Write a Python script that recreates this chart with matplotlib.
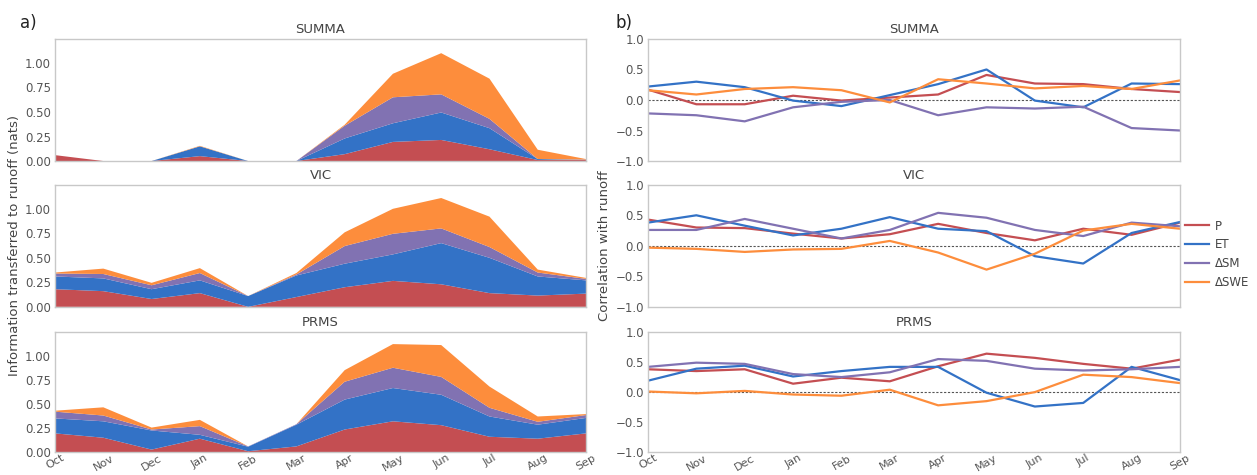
import numpy as np
import matplotlib.pyplot as plt

# --------------------------------
# data
months = ['Oct', 'Nov', 'Dec', 'Jan', 'Feb', 'Mar', 'Apr', 'May', 'Jun', 'Jul', 'Aug', 'Sep']
models = ['SUMMA', 'VIC', 'PRMS']
var_names = ['P', 'ET', '\u0394SM', '\u0394SWE']
colors = ['#c44e52', '#3372c6', '#8172b2', '#fd8d3c']

# a) information transferred (cumulative tops of stacked layers P, P+ET, P+ET+SM, total)
summa_cum = [
    [0.06, 0.0, 0.0, 0.05, 0.0, 0.0, 0.07, 0.195, 0.215, 0.12, 0.01, 0.01],
    [0.06, 0.0, 0.0, 0.15, 0.0, 0.0, 0.23, 0.385, 0.495, 0.335, 0.02, 0.01],
    [0.06, 0.0, 0.0, 0.15, 0.0, 0.0, 0.36, 0.65, 0.68, 0.43, 0.02, 0.015],
    [0.06, 0.0, 0.0, 0.155, 0.0, 0.0, 0.37, 0.89, 1.10, 0.84, 0.115, 0.02],
]
vic_cum = [
    [0.18, 0.16, 0.08, 0.14, 0.0, 0.10, 0.20, 0.265, 0.23, 0.14, 0.115, 0.135],
    [0.31, 0.29, 0.18, 0.27, 0.11, 0.32, 0.44, 0.535, 0.65, 0.50, 0.31, 0.27],
    [0.34, 0.335, 0.22, 0.345, 0.11, 0.33, 0.62, 0.745, 0.80, 0.61, 0.35, 0.285],
    [0.35, 0.39, 0.245, 0.395, 0.11, 0.345, 0.76, 1.00, 1.11, 0.92, 0.38, 0.295],
]
prms_cum = [
    [0.195, 0.15, 0.027, 0.14, 0.01, 0.06, 0.235, 0.32, 0.28, 0.16, 0.14, 0.195],
    [0.35, 0.32, 0.225, 0.18, 0.057, 0.285, 0.545, 0.665, 0.595, 0.37, 0.285, 0.355],
    [0.42, 0.38, 0.235, 0.27, 0.06, 0.29, 0.73, 0.875, 0.78, 0.46, 0.315, 0.385],
    [0.43, 0.465, 0.255, 0.335, 0.06, 0.29, 0.85, 1.12, 1.11, 0.68, 0.37, 0.395],
]

# b) correlation with runoff
summa_P = [0.17, -0.07, -0.07, 0.07, -0.01, 0.04, 0.09, 0.41, 0.27, 0.26, 0.18, 0.13]
summa_ET = [0.22, 0.30, 0.21, -0.01, -0.10, 0.08, 0.26, 0.50, -0.01, -0.12, 0.27, 0.26]
summa_SM = [-0.22, -0.25, -0.35, -0.12, -0.03, 0.0, -0.25, -0.12, -0.14, -0.11, -0.46, -0.50]
summa_SWE = [0.16, 0.09, 0.18, 0.21, 0.16, -0.04, 0.34, 0.27, 0.19, 0.23, 0.18, 0.32]

vic_P = [0.43, 0.30, 0.29, 0.20, 0.12, 0.19, 0.36, 0.21, 0.09, 0.28, 0.18, 0.38]
vic_ET = [0.38, 0.50, 0.33, 0.17, 0.28, 0.47, 0.28, 0.24, -0.17, -0.29, 0.21, 0.39]
vic_SM = [0.26, 0.26, 0.44, 0.28, 0.12, 0.26, 0.54, 0.46, 0.26, 0.16, 0.38, 0.32]
vic_SWE = [-0.03, -0.05, -0.10, -0.06, -0.05, 0.08, -0.11, -0.39, -0.13, 0.25, 0.36, 0.28]

prms_P = [0.38, 0.35, 0.38, 0.14, 0.24, 0.18, 0.43, 0.64, 0.57, 0.47, 0.39, 0.54]
prms_ET = [0.19, 0.39, 0.44, 0.26, 0.35, 0.42, 0.42, -0.01, -0.24, -0.18, 0.42, 0.20]
prms_SM = [0.42, 0.49, 0.47, 0.30, 0.25, 0.33, 0.55, 0.52, 0.39, 0.36, 0.38, 0.42]
prms_SWE = [0.01, -0.02, 0.02, -0.04, -0.06, 0.04, -0.22, -0.15, 0.0, 0.29, 0.25, 0.15]
# --------------------------------

info_cum = [summa_cum, vic_cum, prms_cum]
corr = [[summa_P, summa_ET, summa_SM, summa_SWE],
        [vic_P, vic_ET, vic_SM, vic_SWE],
        [prms_P, prms_ET, prms_SM, prms_SWE]]

plt.rcParams['font.family'] = 'DejaVu Sans'
fig = plt.figure(figsize=(12.57, 4.75), dpi=100)

x = np.arange(len(months))
bottoms = [0.661, 0.354, 0.048]
heights = [0.257, 0.257, 0.253]
tick_col = '#555555'
spine_col = '#c8c8c8'


def style(ax):
    for s in ax.spines.values():
        s.set_color(spine_col)
        s.set_linewidth(1.0)
    ax.tick_params(length=0, colors=tick_col, labelsize=8.5, pad=3)
    ax.tick_params(axis='x', pad=0.5)
    ax.set_xlim(0, len(months) - 1)
    ax.set_xticks(x)


for i, m in enumerate(models):
    # left: stacked information
    ax = fig.add_axes([0.0438, bottoms[i], 0.4224, heights[i]])
    cum = np.array(info_cum[i])
    layers = np.vstack([cum[0], np.diff(cum, axis=0)])
    layers = np.clip(layers, 0, None)
    ax.stackplot(x, layers, colors=colors, linewidth=0)
    ax.set_ylim(0, 1.245)
    ax.set_yticks([0, 0.25, 0.5, 0.75, 1.0])
    ax.set_yticklabels(['0.00', '0.25', '0.50', '0.75', '1.00'])
    style(ax)
    ax.set_title(m, fontsize=9.5, color='#444444', pad=4)
    if i == 2:
        ax.set_xticklabels(months, rotation=30, ha='center', fontsize=8)
    else:
        ax.set_xticklabels([])
    if i == 1:
        ax.set_ylabel('Information transferred to runoff (nats)', fontsize=9.5, color='#444444', labelpad=3)

    # right: correlations
    ax2 = fig.add_axes([0.5155, bottoms[i], 0.4232, heights[i]])
    ax2.axhline(0, color='#555555', lw=0.8, ls=(0, (2, 1.5)))
    for j in range(4):
        ax2.plot(x, corr[i][j], color=colors[j], lw=1.6, label=var_names[j])
    ax2.set_ylim(-1, 1)
    ax2.set_yticks([-1.0, -0.5, 0.0, 0.5, 1.0])
    style(ax2)
    ax2.set_title(m, fontsize=9.5, color='#444444', pad=4)
    if i == 2:
        ax2.set_xticklabels(months, rotation=30, ha='center', fontsize=8)
    else:
        ax2.set_xticklabels([])
    if i == 1:
        ax2.set_ylabel('Correlation with runoff', fontsize=9.5, color='#444444', labelpad=3)
        leg = ax2.legend(loc='center left', bbox_to_anchor=(0.99, 0.43), frameon=False,
                         fontsize=8.5, handlelength=2.0, handletextpad=0.5, labelspacing=0.5)
        for t in leg.get_texts():
            t.set_color('#444444')

fig.text(0.016, 0.94, 'a)', fontsize=12, color='#222222')
fig.text(0.49, 0.94, 'b)', fontsize=12, color='#222222')

fig.savefig('out.png', dpi=100)
